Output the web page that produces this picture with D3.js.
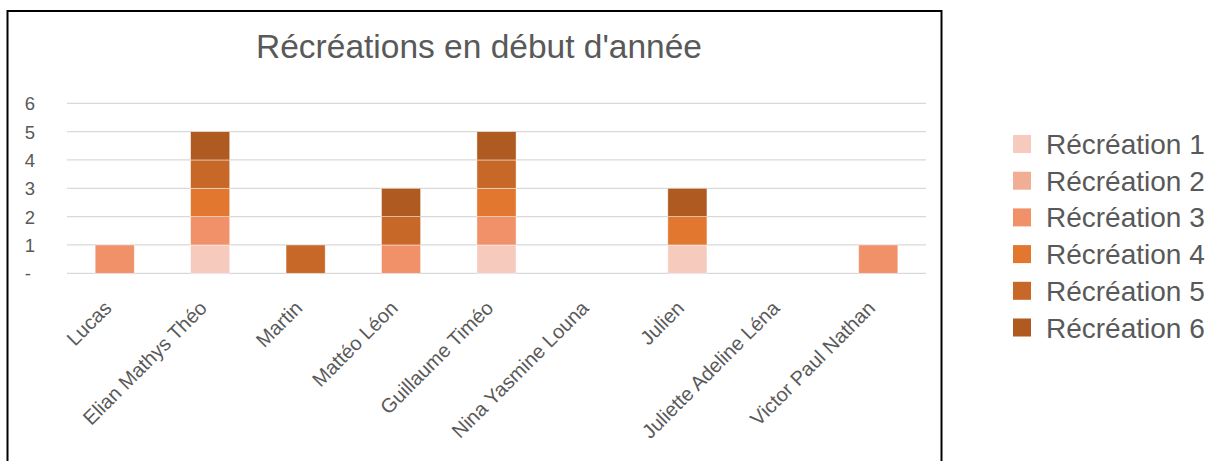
<!DOCTYPE html>
<html>
<head>
<meta charset="utf-8">
<title>Récréations en début d'année</title>
<style>
  body { margin: 0; background: #fff; }
  svg { font-family: "Liberation Sans", Arial, sans-serif; }
</style>
</head>
<body>
<div id="chart"></div>
<script src="https://d3js.org/d3.v7.min.js"></script>
<script>
// data
var eleves = ["Lucas", "Elian Mathys Théo", "Martin", "Mattéo Léon", "Guillaume Timéo",
              "Nina Yasmine Louna", "Julien", "Juliette Adeline Léna", "Victor Paul Nathan"];
var series = ["Récréation 1", "Récréation 2", "Récréation 3", "Récréation 4", "Récréation 5", "Récréation 6"];
var recre1 = [0, 1, 0, 0, 1, 0, 1, 0, 0];
var recre2 = [0, 0, 0, 0, 0, 0, 0, 0, 0];
var recre3 = [1, 1, 0, 1, 1, 0, 0, 0, 1];
var recre4 = [0, 1, 0, 0, 1, 0, 1, 0, 0];
var recre5 = [0, 1, 1, 1, 1, 0, 0, 0, 0];
var recre6 = [0, 1, 0, 1, 1, 0, 1, 0, 0];
var yTicks = [0, 1, 2, 3, 4, 5, 6];
var colors = ["#F6CBBD", "#F2AE95", "#F0916A", "#E2772F", "#C76828", "#AE5A21"];

var values = [recre1, recre2, recre3, recre4, recre5, recre6];
var rows = eleves.map(function(e, i) {
  var r = {name: e};
  series.forEach(function(s, j) { r[s] = values[j][i]; });
  return r;
});

var W = 1219, H = 461;
var svg = d3.select("#chart").append("svg")
  .attr("width", W).attr("height", H);

// chart frame
svg.append("rect")
  .attr("x", 7.5).attr("y", 11)
  .attr("width", 934).attr("height", 470)
  .attr("fill", "none").attr("stroke", "#000").attr("stroke-width", 2);

svg.append("text")
  .attr("x", 479).attr("y", 58)
  .attr("text-anchor", "middle")
  .attr("font-size", "33.5px")
  .attr("fill", "#595959")
  .text("Récréations en début d'année");

var x = d3.scaleBand().domain(eleves).range([67, 926]).paddingInner(0.59).paddingOuter(0.295);
var y = d3.scaleLinear().domain([0, 6]).range([273.3, 103.3]);

// gridlines
svg.append("g").selectAll("line")
  .data(yTicks)
  .enter().append("line")
    .attr("x1", 67).attr("x2", 926)
    .attr("y1", function(d) { return y(d); })
    .attr("y2", function(d) { return y(d); })
    .attr("stroke", "#D9D9D9").attr("stroke-width", 1.3);

// y axis labels
var yAxis = d3.axisLeft(y).tickValues(yTicks).tickSize(0)
  .tickFormat(function(d) { return d === 0 ? "-" : d; });
var ya = svg.append("g").attr("transform", "translate(38,0)").call(yAxis);
ya.select(".domain").remove();
ya.selectAll("text")
  .attr("font-size", "18.5px").attr("fill", "#595959")
  .attr("font-family", "Liberation Sans, Arial, sans-serif")
  .attr("dx", function(d) { return d === 0 ? "-4" : "0"; })
  .attr("dy", "0.36em");

// stacked bars
var stacked = d3.stack().keys(series)(rows);
svg.append("g").selectAll("g")
  .data(stacked)
  .enter().append("g")
    .attr("fill", function(d, i) { return colors[i]; })
  .selectAll("rect")
  .data(function(d) { return d.filter(function(p) { return p[1] - p[0] > 0; }); })
  .enter().append("rect")
    .attr("x", function(d) { return x(d.data.name); })
    .attr("y", function(d) { return y(d[1]); })
    .attr("width", x.bandwidth())
    .attr("height", function(d) { return y(d[0]) - y(d[1]); })
    .attr("stroke", "#fff").attr("stroke-width", 0.75).attr("stroke-opacity", 0.6);

// x labels
var xAxis = d3.axisBottom(x).tickSize(0);
var xa = svg.append("g").attr("transform", "translate(0,273.3)").call(xAxis);
xa.select(".domain").remove();
xa.selectAll("text")
  .attr("font-size", "20px").attr("fill", "#595959")
  .attr("font-family", "Liberation Sans, Arial, sans-serif")
  .attr("text-anchor", "end")
  .attr("dy", null).attr("y", null)
  .attr("transform", "translate(-2,36) rotate(-45)");

// legend
var lg = svg.append("g").selectAll("g")
  .data(series)
  .enter().append("g")
    .attr("transform", function(d, i) { return "translate(1013," + (144 + i * 36.7) + ")"; });
lg.append("rect")
  .attr("x", 0).attr("y", -9).attr("width", 18).attr("height", 18)
  .attr("fill", function(d, i) { return colors[i]; });
lg.append("text")
  .attr("x", 33).attr("y", 10)
  .attr("font-size", "28px").attr("fill", "#595959")
  .text(function(d) { return d; });
</script>
</body>
</html>
